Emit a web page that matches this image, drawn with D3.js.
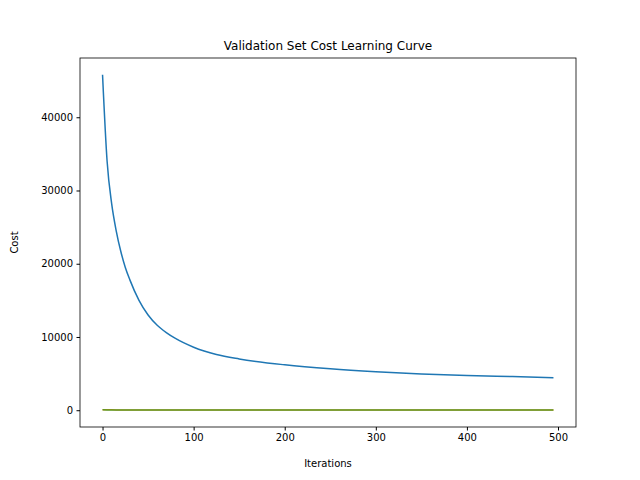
<!DOCTYPE html><html><head><script src="https://cdn.jsdelivr.net/npm/d3@7"></script>
<style>body{margin:0}text{font-family:"DejaVu Sans";}</style></head><body><svg width="640" height="480"></svg>
<script>
const iterations=[0,5,10,15,20,25,30,40,50,60,70,80,100,125,150,200,250,300,350,400,450,495];
const blueCost=[45800,34000,28200,24500,21700,19500,17800,15000,13000,11600,10600,9800,8600,7600,7000,6200,5650,5250,4950,4750,4600,4450];
const orangeCost=[60,55,50,48,46,45,44,42,40,39,38,37,36,35,34,33,32,31,30,30,29,29];
const greenCost=[50,45,42,40,38,37,36,34,33,32,31,30,29,28,27,26,25,24,24,23,23,22];
const xTicks=[0,100,200,300,400,500], yTicks=[0,10000,20000,30000,40000];
const svg=d3.select("svg");
svg.append("rect").attr("width",640).attr("height",480).attr("fill","#fff");
const L=80,R=576,T=58,B=427;
const x=d3.scaleLinear().domain([-24.75,519.75]).range([L,R]);
const y=d3.scaleLinear().domain([-2290,48090]).range([B,T]);
const line=d3.line().curve(d3.curveMonotoneX).x((d,i)=>x(iterations[i])).y(d=>y(d));
[[blueCost,"#1f77b4",1],[orangeCost,"#ff7f0e",1],[greenCost,"#2ca02c",0.8]].forEach(([s,c,o])=>
 svg.append("path").attr("d",line(s)).attr("fill","none").attr("stroke",c).attr("stroke-opacity",o).attr("stroke-width",1.5));
svg.append("g").attr("transform",`translate(0,${B})`).call(d3.axisBottom(x).tickValues(xTicks).tickSize(3.5).tickPadding(3.5)).call(g=>g.select(".domain").remove());
svg.append("g").attr("transform",`translate(${L},0)`).call(d3.axisLeft(y).tickValues(yTicks).tickFormat(d3.format("d")).tickSize(3.5).tickPadding(3.5)).call(g=>g.select(".domain").remove());
svg.selectAll(".tick text").attr("font-size",10).attr("font-family","DejaVu Sans").attr("fill","#000");
svg.selectAll(".tick line").attr("stroke","#000");
svg.append("rect").attr("x",L).attr("y",T).attr("width",R-L).attr("height",B-T).attr("fill","none").attr("stroke","#000").attr("stroke-width",0.8);
svg.append("text").attr("x",(L+R)/2).attr("y",T-8).attr("text-anchor","middle").attr("font-size",12).text("Validation Set Cost Learning Curve");
svg.append("text").attr("x",(L+R)/2).attr("y",467).attr("text-anchor","middle").attr("font-size",10).text("Iterations");
svg.append("text").attr("transform",`translate(18,${(T+B)/2}) rotate(-90)`).attr("text-anchor","middle").attr("font-size",10).text("Cost");
</script></body></html>
